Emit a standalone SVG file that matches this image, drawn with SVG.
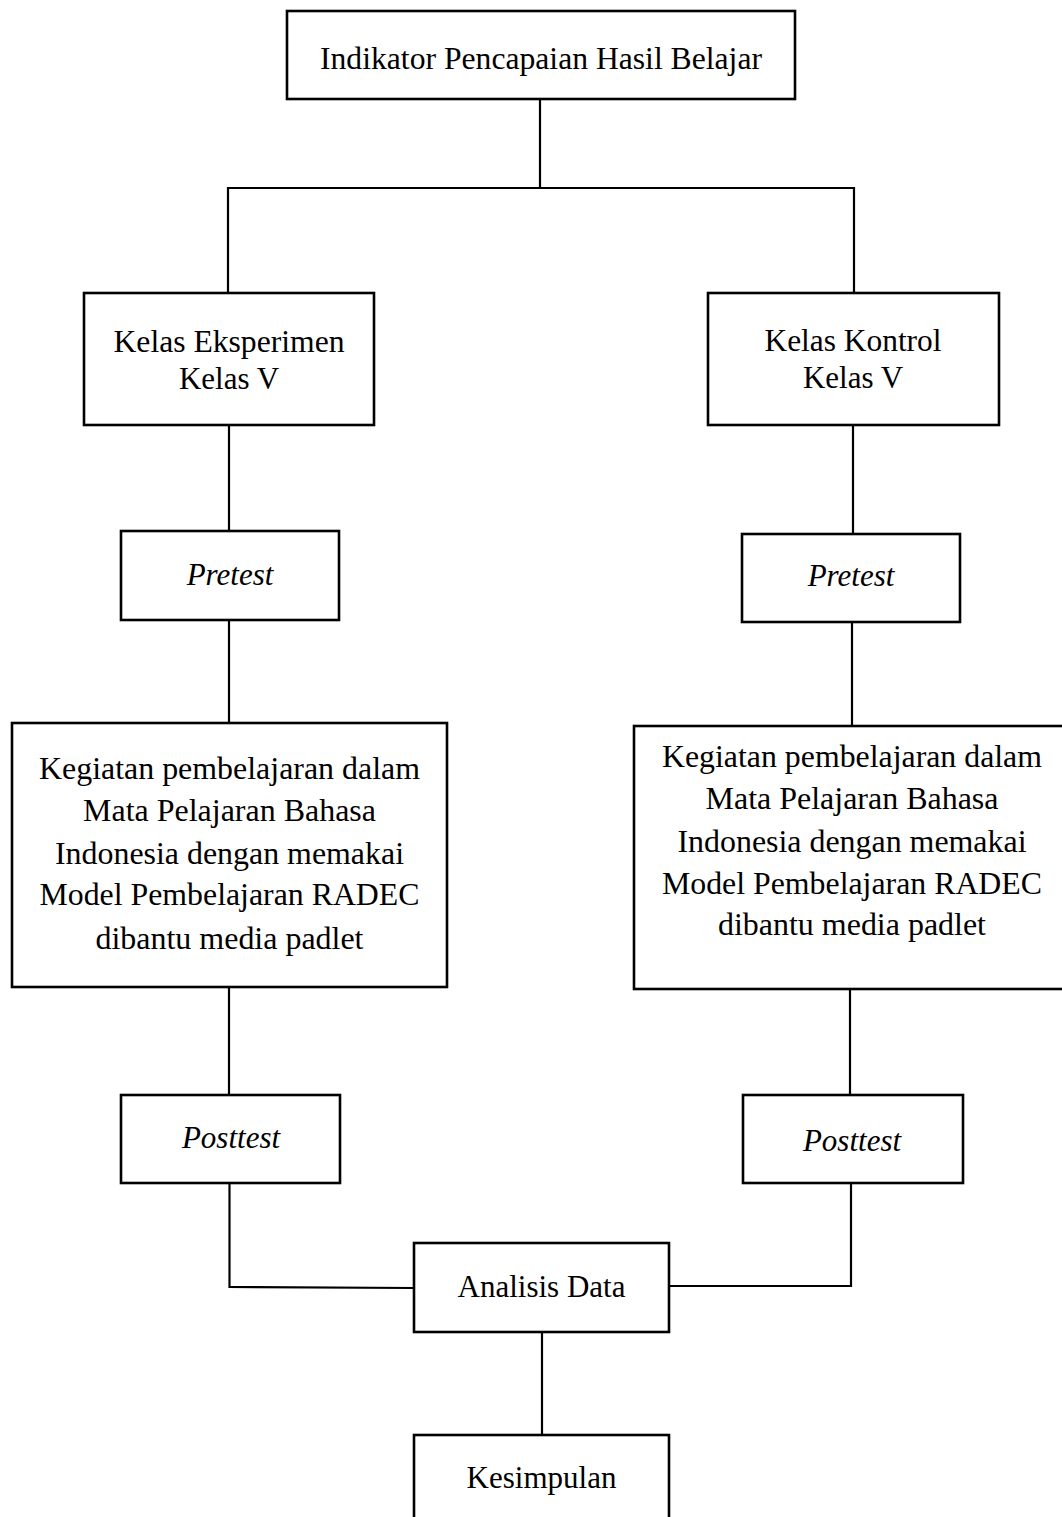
<svg xmlns="http://www.w3.org/2000/svg" width="1062" height="1517" viewBox="0 0 1062 1517">
  <style>
    .box { fill: #ffffff; stroke: #000000; stroke-width: 2.6; }
    .lbl { font-family: "Liberation Serif", "Times New Roman", serif; font-size: 31px; fill: #000000; text-anchor: middle; }
    .it { font-style: italic; }
    .conn { fill: none; stroke: #000000; stroke-width: 2.2; }
  </style>
  <rect width="1062" height="1517" fill="#ffffff"/>

  <g id="connectors">
    <polyline class="conn" points="540,99 540,188"/>
    <polyline class="conn" points="228,293 228,188 854,188 854,293"/>
    <line class="conn" x1="229" y1="425" x2="229" y2="531"/>
    <line class="conn" x1="229" y1="620" x2="229" y2="723"/>
    <line class="conn" x1="229" y1="987" x2="229" y2="1095"/>
    <line class="conn" x1="853" y1="425" x2="853" y2="534"/>
    <line class="conn" x1="852" y1="622" x2="852" y2="726"/>
    <line class="conn" x1="850" y1="989" x2="850" y2="1095"/>
    <polyline class="conn" points="229.5,1183 229.5,1287 414,1288"/>
    <polyline class="conn" points="669,1286 851,1286 851,1183"/>
    <line class="conn" x1="542" y1="1332" x2="542" y2="1438"/>
  </g>

  <g id="node-indikator">
    <rect class="box" x="287" y="11" width="508" height="88"/>
    <text class="lbl" x="541" y="69" textLength="442" lengthAdjust="spacingAndGlyphs">Indikator Pencapaian Hasil Belajar</text>
  </g>

  <g id="node-eksperimen">
    <rect class="box" x="84" y="293" width="290" height="132"/>
    <text class="lbl" x="229" y="352" textLength="231" lengthAdjust="spacingAndGlyphs">Kelas Eksperimen</text>
    <text class="lbl" x="229" y="389">Kelas V</text>
  </g>

  <g id="node-kontrol">
    <rect class="box" x="708" y="293" width="291" height="132"/>
    <text class="lbl" x="853" y="351" textLength="177" lengthAdjust="spacingAndGlyphs">Kelas Kontrol</text>
    <text class="lbl" x="853" y="388">Kelas V</text>
  </g>

  <g id="node-pretest-left">
    <rect class="box" x="121" y="531" width="218" height="89"/>
    <text class="lbl it" x="230" y="585">Pretest</text>
  </g>

  <g id="node-pretest-right">
    <rect class="box" x="742" y="534" width="218" height="88"/>
    <text class="lbl it" x="851" y="586">Pretest</text>
  </g>

  <g id="node-kegiatan-left">
    <rect class="box" x="12" y="723" width="435" height="264"/>
    <text class="lbl" x="229.5" y="779" textLength="381" lengthAdjust="spacingAndGlyphs">Kegiatan pembelajaran dalam</text>
    <text class="lbl" x="229.5" y="821" textLength="293" lengthAdjust="spacingAndGlyphs">Mata Pelajaran Bahasa</text>
    <text class="lbl" x="229.5" y="864" textLength="349" lengthAdjust="spacingAndGlyphs">Indonesia dengan memakai</text>
    <text class="lbl" x="229.5" y="905" textLength="380" lengthAdjust="spacingAndGlyphs">Model Pembelajaran RADEC</text>
    <text class="lbl" x="229.5" y="949" textLength="268" lengthAdjust="spacingAndGlyphs">dibantu media padlet</text>
  </g>

  <g id="node-kegiatan-right">
    <rect class="box" x="634" y="726" width="440" height="263"/>
    <text class="lbl" x="852" y="767" textLength="380" lengthAdjust="spacingAndGlyphs">Kegiatan pembelajaran dalam</text>
    <text class="lbl" x="852" y="809" textLength="293" lengthAdjust="spacingAndGlyphs">Mata Pelajaran Bahasa</text>
    <text class="lbl" x="852" y="852" textLength="349" lengthAdjust="spacingAndGlyphs">Indonesia dengan memakai</text>
    <text class="lbl" x="852" y="894" textLength="380" lengthAdjust="spacingAndGlyphs">Model Pembelajaran RADEC</text>
    <text class="lbl" x="852" y="935" textLength="268" lengthAdjust="spacingAndGlyphs">dibantu media padlet</text>
  </g>

  <g id="node-posttest-left">
    <rect class="box" x="121" y="1095" width="219" height="88"/>
    <text class="lbl it" x="231" y="1148">Posttest</text>
  </g>

  <g id="node-posttest-right">
    <rect class="box" x="743" y="1095" width="220" height="88"/>
    <text class="lbl it" x="852" y="1151">Posttest</text>
  </g>

  <g id="node-analisis">
    <rect class="box" x="414" y="1243" width="255" height="89"/>
    <text class="lbl" x="541.5" y="1297">Analisis Data</text>
  </g>

  <g id="node-kesimpulan">
    <rect class="box" x="414" y="1435" width="255" height="95"/>
    <text class="lbl" x="541.5" y="1488">Kesimpulan</text>
  </g>
</svg>
